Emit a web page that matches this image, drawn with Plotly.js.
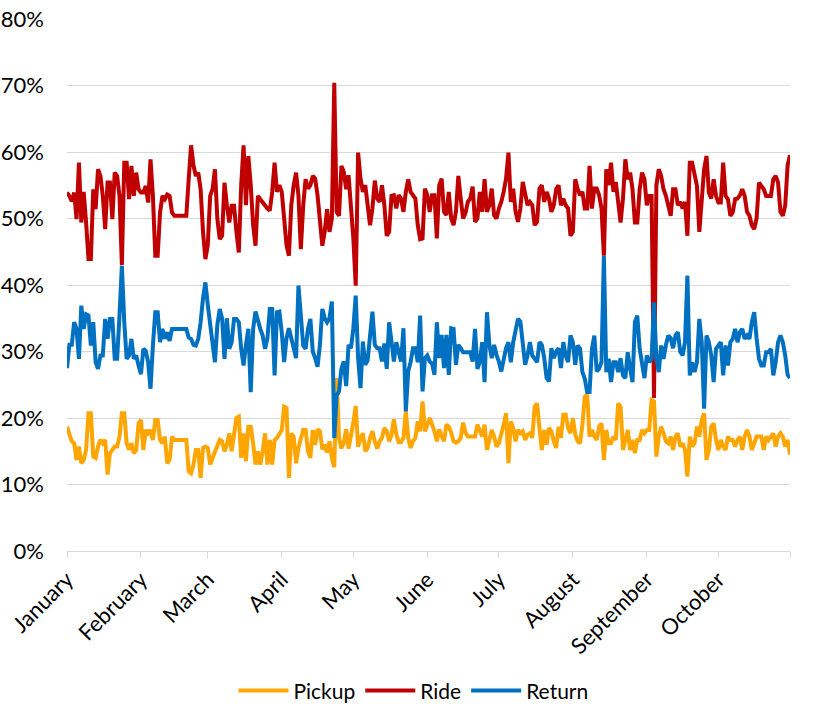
<!DOCTYPE html>
<html>
<head>
<meta charset="utf-8">
<script src="https://cdn.plot.ly/plotly-3.0.1.min.js"></script>
<style>html,body{margin:0;padding:0;background:#fff;}#chart{width:822px;height:722px;}</style>
</head>
<body>
<div id="chart"></div>
<script>
// Month tick labels and the day index (0 = 1 January) where each month starts
// (the last, unlabelled tick closes the axis at the end of October)
var monthLabels = ["January","February","March","April","May","June","July","August","September","October",""];
var monthStartDay = [0,31,59,90,120,151,181,212,243,273,303];

// Daily shares (%) from 1 January to 31 October
var pickup = [
18.7,17.7,16.5,16.2,13.7,15.7,13.2,13.7,15.2,20.7,20.7,14.2,14,15.7,16.7,16.2,16.7,11.5,14.7,15.2,15.7,15.7,17.2,20.7,20.7,16.2,15.2,16.2,14.7,15.2,19.2,19.7,15.2,18.2,17.7,18.2,16.7,19.7,19.7,16.7,16.2,17.2,13.2,13.7,17.2,16.7,16.7,16.7,16.7,16.7,16.7,12,
11.7,13,15.2,15.2,11,15.5,15.7,15.5,13,14,15,16,16.7,16.5,15,16,17.7,15,17.7,20,20.2,14,17.7,13.5,18.7,18.7,16.2,13,15,13,15,17.7,13,16.7,13,16.7,17,17.5,18.2,21.7,21.5,11,17.7,17.2,13.2,15.5,16.7,18.2,18.2,15,14,18.2,
16,18.3,18,15.3,16,14.8,16.5,14,12.6,26,17,15.4,16.3,18.3,15.4,17.2,19.3,21.8,15.7,17,17.7,15,15.5,17,18,16.5,15.4,16.5,17,18.5,18,16.5,17.5,19.8,17.5,16.4,16.4,17,21,17,15.5,16.5,17,19.5,18,22.5,18,19,20,19,18,
16.5,18.3,17.3,16.5,19,18.7,17.8,16.5,16.3,16.5,17,19.3,17.8,17.2,17.2,17.2,17.2,19,18,17.2,19,15.2,16.7,18.2,17.2,15.7,16.2,17.5,19,20.7,13.2,19.5,18.5,16.5,18.2,17.7,18,16.7,17.5,17.7,17,21.7,22.2,18.5,15.2,
18.2,16,18.5,18,16.5,15.5,18.7,17,20.5,20.5,18.5,17.7,20,17.5,16.5,16.2,19,23.2,23.5,17.2,18.2,17.2,16.7,18.7,19.2,13.7,18.2,16.2,16.2,17.2,16.7,22.2,21.7,15.2,16.7,18.2,15.2,16.7,14.7,16.7,16.7,18.2,17.7,18.2,18.2,22.7,22.5,14.2,17.2,18.7,17.7,
16.5,16.2,17.2,15.2,17.2,17.7,15.7,16.2,15.2,11.2,17.2,15.7,16.2,18.7,17.2,19.7,20.7,13.7,15.2,18.7,19.2,16.7,15.2,16.7,15.7,15.2,17.2,16.7,16.7,15.7,16.7,17.2,15.2,17.2,18.2,17.2,15.2,16.2,17.2,17.2,17.2,15.2,17.2,16.7,17.2,17.7,15.7,17.2,17.7,17.2,15.7,16.7,14.5
];
var ride = [
53.9,53.4,52.6,53.9,49.9,58.4,49.4,54,49.4,43.9,43.9,54.4,51.4,57.4,56.4,53.4,48.4,55.4,55.4,49.9,56.9,56.4,53.4,43,58.4,58.4,52.9,57.9,53.4,56.9,54.4,53.9,53.9,54.9,52.4,58.9,53.4,44.4,44.4,50.9,53.4,52.9,53.6,53.4,50.9,50.4,50.4,50.4,50.4,50.4,50.4,55.9,
61,58,56.4,56.9,54.4,48,43.9,46,53.4,54.4,57.4,50,46.9,47.4,55.4,52,49.4,51.9,51.9,48,44.9,55,61,52,59.4,55,49,45.9,53.4,52.9,52.4,51.9,51.5,51.2,54,58.4,54,55,54,50,46,44.4,52,55,56.9,53.4,45.4,52,55.9,54.5,55,56.4,
56,53.5,50,45.9,48,51.4,48,50,70.4,51,50.4,57.9,57,54.4,56.5,52,47,39.9,59.9,56,54,55,52,49,51.5,55.7,53,52.5,55,52,47.4,48,53.4,53.5,51.5,53.5,53,51,54,55.9,54,53.5,53,49,46.9,47,54.5,53.5,51,53.5,53.5,
47,55,56,51,50.5,54,50,49,51,56.4,53,50,50.8,52.5,53,54.8,49.5,50,54,51,55.9,51,52,54.5,50.5,50,51.5,52.5,54,56,59.9,52.5,54.5,51,49.5,51.5,55.5,54,52,52.5,52,49,49.5,54.5,55,
52.5,54,53,51,52,54.4,55,52,53,52,51.5,47.4,48,55.9,54.5,53.5,54,51.5,51.5,57.9,51.5,54.5,54.5,53.5,51.5,44.4,57.4,55,58.4,54,55.5,52,49.4,53,58.9,55.9,56.9,54.4,49.4,49.4,54.4,56.9,55.9,52,53.4,53.4,23,55,57.4,56.4,54.4,
53.4,51.5,50.4,54.4,54.4,52,52.5,51.5,52.5,47.4,58.4,58.4,56.4,54.9,48,53.4,57.4,59.4,53.9,53,55.9,53.4,52.4,52.4,58.4,53.4,52.9,50.4,50.9,52.9,53,53.5,54.4,53.4,51,50.4,49,48.4,50,55.4,55,54.4,53.4,53.4,53.4,55.9,56.4,55.4,51,50.4,52,58,59.5
];
var ret = [
27.5,31,31,34.4,33.4,28.9,36.9,33.4,35.6,35.4,30.9,34.4,28.4,27.4,29.4,29.4,34.9,31.9,34.9,34.9,28.9,28.9,35.4,42.9,34.4,28.9,29.4,31.9,28.9,29.4,27.9,26.6,30.4,30.1,28.4,24.4,30.9,35.9,35.9,31.4,33.4,31.9,32.9,31.6,33.4,33.4,33.4,33.4,33.4,33.4,33.4,32.1,
31.9,31,30.9,31.9,34.4,38,40.4,37,33.9,32,28.4,34,36.4,35,28.9,35,30.4,31.4,34.9,34.9,34.4,30.4,27.9,31,33.4,23.9,33.4,36,34.4,33.4,32.4,30.4,32,36.4,36.4,26.4,35.9,36,32.9,28.4,32,33.5,32,30.4,29,39.9,35,30.9,30.4,33.4,34.9,30,
29,27.7,31,36.4,35,34.4,35,37.5,17,23.4,24,27.4,28.5,24.8,31,30.5,33.5,38.4,29,24.5,31.5,28,28.7,33,36,31,30.5,30.5,28.5,31.2,27.4,34.4,31.4,28.5,31.4,30,28.5,33.5,21,27,28.4,30.5,30.5,28.4,35.4,24,29,29.4,28.5,28.2,26.5,
34.4,29,32.5,27.5,32.5,26.5,33.5,33.4,28,31,30.5,29.9,29.9,29.9,29.9,28.5,33.4,27.4,28.5,31.4,25.4,35.9,31,29,31,29.5,28.5,27,29,30.5,31.4,28.4,31.4,33,34.9,34.5,31,28,29.4,31.4,29.4,29,28.4,31.4,31,
29,26,25.5,30.5,29,30,30.5,27.5,31.4,29.4,28.4,32.4,31.4,28,30.9,30.4,26.9,25.9,23.9,23.9,30.4,32.4,27,27.4,28.4,44.4,26.9,28.9,25.4,28.4,28.4,26.9,29,26.4,26,29.9,27.4,25.4,34.4,35.4,30.4,28.4,26,29.4,28.4,28.9,37.4,28.9,26.9,30.9,28.9,
31,32.4,32,30.5,32.4,32.9,30,29.4,31.4,41.4,26.4,28.4,26.9,28.4,34.9,31.5,21.4,32.4,31.4,29.4,25.4,30.4,30.9,31.4,26.4,30.9,27.9,31.4,31.9,33.4,31.4,32.9,33.4,31.9,32.4,31.9,34.4,35.9,32,28.9,27.9,27.9,29.9,29.9,30.4,26.4,28.4,31.4,32.4,31.4,29.4,26.5,26
];

var seriesNames = ["Pickup","Ride","Return"];
var seriesColors = ["#FFA500","#C00000","#0070C0"];
var seriesValues = [pickup, ride, ret];

var traces = seriesValues.map(function(vals, i){
  var xs = vals.map(function(_, d){ return d; });
  return {
    type: "scatter", mode: "lines", name: seriesNames[i],
    x: xs, y: vals,
    line: {color: seriesColors[i], width: 4},
    hoverinfo: "skip"
  };
});

var FONT = "Lato, 'Open Sans', 'DejaVu Sans', sans-serif";
var layout = {
  width: 822, height: 722,
  margin: {l: 67, r: 32, t: 19, b: 171, pad: 0},
  paper_bgcolor: "#ffffff", plot_bgcolor: "#ffffff",
  font: {family: FONT, size: 20, color: "#000000"},
  showlegend: true,
  legend: {
    orientation: "h", xref: "container", x: 0.503, xanchor: "center",
    yref: "container", y: 0.043, yanchor: "middle",
    font: {family: FONT, size: 21, color: "#000000"},
    itemwidth: 50, traceorder: "normal"
  },
  xaxis: {
    range: [0, 303],
    tickmode: "array", tickvals: monthStartDay, ticktext: monthLabels,
    tickangle: -45,
    ticks: "outside", ticklen: 6, tickcolor: "#d9d9d9", tickwidth: 1,
    showline: true, linecolor: "#d9d9d9", linewidth: 1,
    showgrid: false, zeroline: false,
    tickfont: {family: FONT, size: 22, color: "#000000"}
  },
  yaxis: {
    range: [0, 80], dtick: 10, tick0: 0, ticksuffix: "%",
    showgrid: true, gridcolor: "#d9d9d9", gridwidth: 1,
    zeroline: false, showline: false, ticks: "",
    ticklabelstandoff: 22,
    tickfont: {family: FONT, size: 22, color: "#000000"}
  }
};

Plotly.newPlot("chart", traces, layout, {displayModeBar: false, staticPlot: true});
</script>
</body>
</html>
